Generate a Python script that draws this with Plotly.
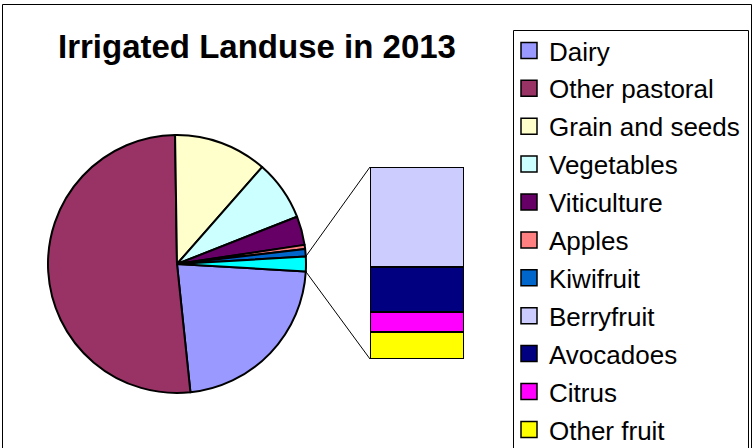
import math
import plotly.graph_objects as go

# ---- data (relative units) ----
pie_labels = ["Dairy", "Other pastoral", "Grain and seeds", "Vegetables",
              "Viticulture", "Apples", "Kiwifruit"]
pie_values = [224.0, 514.0, 117.0, 75.6, 36.0, 5.0, 9.4]
pie_colors = ["#9999FF", "#993366", "#FFFFCC", "#CCFFFF",
              "#660066", "#FF8080", "#0066CC"]

bar_labels = ["Berryfruit", "Avocadoes", "Citrus", "Other fruit"]
bar_values = [9.7, 4.35, 1.9, 2.6]
bar_colors = ["#CCCCFF", "#000080", "#FF00FF", "#FFFF00"]
other_color = "#00FFFF"

title_text = "Irrigated Landuse in 2013"

# figure is a little taller than the 448px window so the clipped legend fits
W, H = 753, 480
FONT = "Arial, Liberation Sans, sans-serif"

other_total = sum(bar_values)
total = sum(pie_values) + other_total
other_angle = other_total / total * 360.0
rotation = 90.0 + other_angle / 2.0

# pie placement (pixels from top-left)
pcx, pcy, pr = 177.0, 264.0, 129.0
pie_dom_x = [(pcx - pr) / W, (pcx + pr) / W]
pie_dom_y = [1 - (pcy + pr) / H, 1 - (pcy - pr) / H]

# bar placement (pixels)
bx0, bx1, by0, by1 = 370.0, 464.0, 167.0, 359.0
bar_dom_x = [bx0 / W, bx1 / W]
bar_dom_y = [1 - by1 / H, 1 - by0 / H]

fig = go.Figure()

fig.add_trace(go.Pie(
    labels=pie_labels + ["Other"],
    values=pie_values + [other_total],
    marker=dict(colors=pie_colors + [other_color],
                line=dict(color="black", width=2)),
    sort=False, direction="clockwise", rotation=rotation,
    textinfo="none", hoverinfo="label+value",
    showlegend=False,
    domain=dict(x=pie_dom_x, y=pie_dom_y),
))

# stacked bar (bottom to top)
for lab, val, col in reversed(list(zip(bar_labels, bar_values, bar_colors))):
    fig.add_trace(go.Bar(
        x=["Other"], y=[val], name=lab,
        marker=dict(color=col, line=dict(color="black", width=2)),
        width=1, showlegend=False,
    ))

# legend entries
legend_labels = pie_labels + bar_labels
legend_colors = pie_colors + bar_colors
for i, (lab, col) in enumerate(zip(legend_labels, legend_colors)):
    fig.add_trace(go.Scatter(
        x=[None], y=[None], mode="markers", name=lab,
        legendgroup="g%d" % i,
        marker=dict(symbol="square", size=16, color=col,
                    line=dict(color="black", width=1.5)),
    ))

# connector lines from the split slice to the bar
def clock_pt(deg):
    a = math.radians(deg)
    return pcx + pr * math.sin(a), pcy - pr * math.cos(a)

ux, uy = clock_pt(rotation - other_angle)
lx, ly = clock_pt(rotation)
shapes = [
    dict(type="line", xref="paper", yref="paper",
         x0=ux / W, y0=1 - uy / H, x1=bx0 / W, y1=1 - by0 / H,
         line=dict(color="black", width=1)),
    dict(type="line", xref="paper", yref="paper",
         x0=lx / W, y0=1 - ly / H, x1=bx0 / W, y1=1 - by1 / H,
         line=dict(color="black", width=1)),
    # legend frame
    dict(type="rect", xref="paper", yref="paper",
         x0=513.5 / W, x1=748.5 / W, y0=-0.1, y1=1 - 30.5 / H,
         line=dict(color="black", width=1)),
    # chart frame
    dict(type="rect", xref="paper", yref="paper",
         x0=2.5 / W, x1=751.5 / W, y0=-0.1, y1=1 - 4.5 / H,
         line=dict(color="black", width=1)),
]

fig.update_layout(
    width=W, height=H,
    margin=dict(l=0, r=0, t=0, b=0),
    paper_bgcolor="white", plot_bgcolor="white",
    font=dict(family=FONT, color="black"),
    barmode="stack", bargap=0,
    xaxis=dict(domain=bar_dom_x, range=[-0.5, 0.5], visible=False, fixedrange=True),
    yaxis=dict(domain=bar_dom_y, range=[0, other_total], visible=False, fixedrange=True),
    showlegend=True,
    legend=dict(x=509 / W, y=1 - 27 / H, xanchor="left", yanchor="top",
                bgcolor="rgba(0,0,0,0)", borderwidth=0,
                font=dict(family=FONT, size=26, color="black"),
                traceorder="grouped", tracegroupgap=1.1),
    shapes=shapes,
    annotations=[dict(text="<b>%s</b>" % title_text, x=257 / W, y=1 - 46 / H,
                      xref="paper", yref="paper", xanchor="center", yanchor="middle",
                      showarrow=False, font=dict(family=FONT, size=33, color="black"))],
)

fig.write_html("out.html", config={"displayModeBar": False},
               post_script="document.body.style.margin='0px';document.body.style.overflow='hidden';")
